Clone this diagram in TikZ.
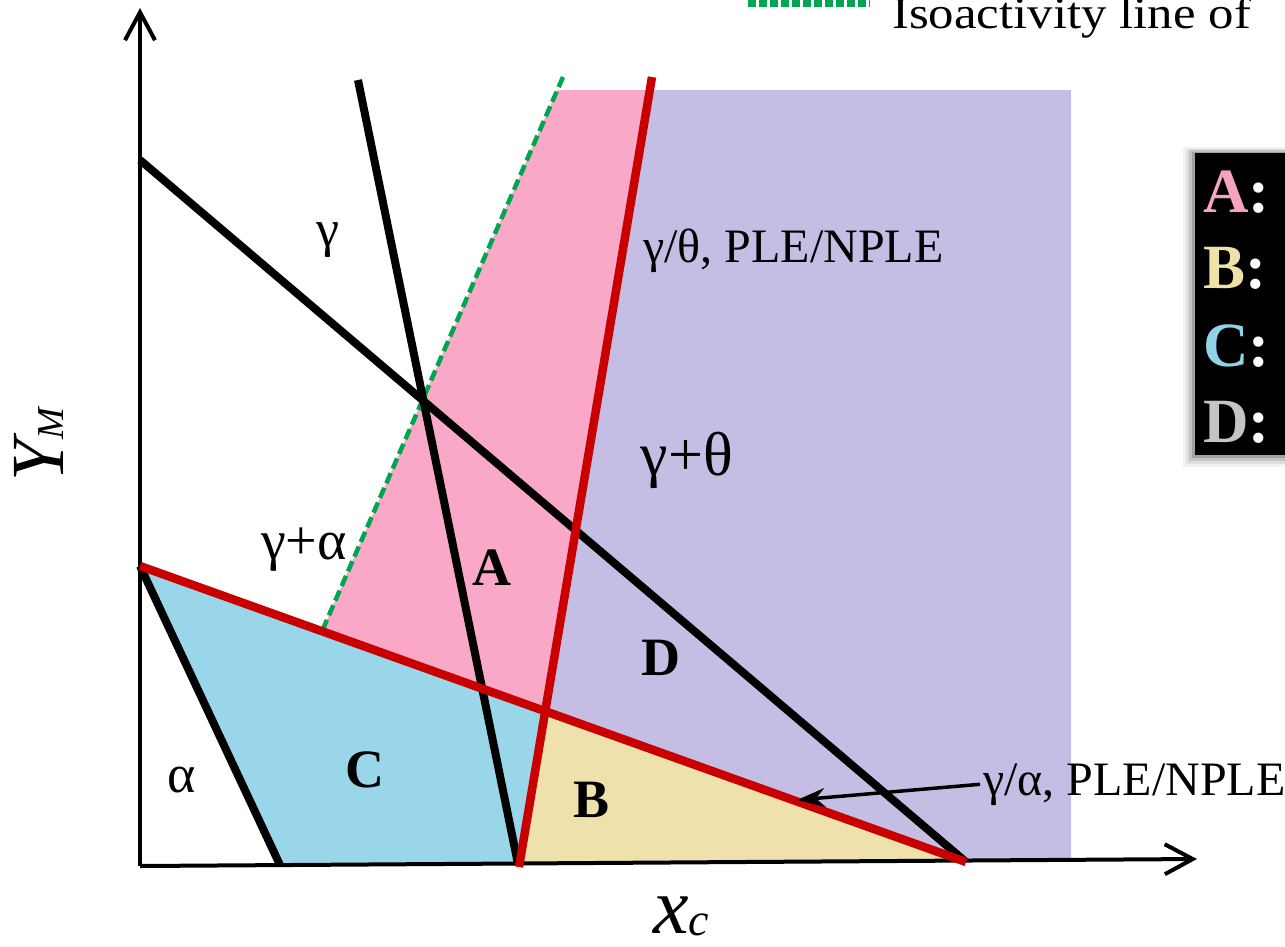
\documentclass[tikz,border=0pt]{standalone}
\usepackage{fontspec}
\usepackage{graphicx}
\setmainfont{Liberation Serif}
\usetikzlibrary{arrows.meta}
\definecolor{purp}{HTML}{C5BEE4}
\definecolor{pinkA}{HTML}{F9A8C7}
\definecolor{cyanC}{HTML}{99D6EA}
\definecolor{yelB}{HTML}{EFE1AB}
\definecolor{redL}{HTML}{C80000}
\definecolor{greenL}{HTML}{00A550}
\definecolor{legA}{HTML}{F5A3C3}
\definecolor{legB}{HTML}{EEE2A8}
\definecolor{legC}{HTML}{8FD4E8}
\definecolor{legD}{HTML}{C4C4C4}
\begin{document}
\begin{tikzpicture}[x=1pt,y=-1pt,
  blk/.style={line width=8pt, black},
  redline/.style={line width=8.5pt, redL},
  isoline/.style={line width=4.5pt, greenL, dash pattern=on 11pt off 5pt},
  axisline/.style={line width=4pt, black, -{Straight Barb[length=28pt,width=30pt,line width=4pt]}},
  lab/.style={font=\fontsize{48}{52}\selectfont, inner sep=0pt},
  blab/.style={font=\fontsize{54}{58}\selectfont\bfseries, inner sep=0pt},
  leg/.style={font=\fontsize{63}{66}\selectfont\bfseries, inner sep=0pt, anchor=base west}]
\useasboundingbox (0,0) rectangle (1285,946);
% key points
\coordinate (O) at (140,866);
\coordinate (Ytop) at (140,8);
\coordinate (Xtip) at (1197,859);
\coordinate (L1a) at (140,160);
\coordinate (E) at (966,862);
\coordinate (L2a) at (358,80);
\coordinate (L2b) at (518,864);
\coordinate (K) at (140,566);
\coordinate (L3b) at (280,865);
\coordinate (R2a) at (652,77);
\coordinate (R2b) at (519,867);
\coordinate (R2t) at (649.8,90);
\coordinate (Ga) at (563,77);
\coordinate (Gt) at (557.3,90);
\coordinate (Gb) at (322,631.2);
\coordinate (P) at (545.2,711.3);
\coordinate (PurTR) at (1071,90);
\coordinate (PurBR) at (1071,858);
\coordinate (R2x) at (519,865);
% regions
\fill[purp] (R2t) -- (PurTR) -- (PurBR) -- (E) -- (P) -- cycle;
\fill[pinkA] (Gt) -- (R2t) -- (P) -- (Gb) -- cycle;
\fill[cyanC] (K) -- (P) -- (R2x) -- (L3b) -- cycle;
\fill[yelB] (P) -- (E) -- (R2x) -- cycle;
% axes
\draw[axisline] (O) -- (Ytop);
\draw[axisline] (O) -- (Xtip);
% lines
\draw[isoline] (Ga) -- (Gb);
\draw[blk] (L1a) -- (E);
\draw[blk] (L2a) -- (L2b);
\draw[blk] (K) -- (L3b);
\draw[redline] (K) -- (E);
\draw[redline] (R2a) -- (R2b);
% labels
\node[lab, font=\fontsize{52}{56}\selectfont] (lg) at (328,240) {γ};
\node[lab, anchor=base west] (lgt) at (643,262) {γ/θ, PLE/NPLE};
\node[lab, font=\fontsize{62}{66}\selectfont] (lgpt) at (687,460) {γ+θ};
\node[lab, font=\fontsize{56}{60}\selectfont] (lgpa) at (304,550) {γ+α};
\node[blab] (lA) at (492,568) {A};
\node[blab] (lD) at (661,658) {D};
\node[blab] (lC) at (365,770) {C};
\node[blab] (lB) at (592,800) {B};
\node[lab, font=\fontsize{54}{58}\selectfont] (lal) at (182,780) {α};
\node[lab, anchor=base west] (lga) at (983,795) {γ/α, PLE/NPLE};
\coordinate (arrtip) at (797,800);
\draw[line width=3.5pt, -{Stealth[length=28pt,width=19pt]}] ([xshift=-3pt]lga.west) -- (arrtip);
% axis titles
\node[inner sep=0pt, rotate=90, anchor=base] (ylab) at (63,445) {\fontsize{75}{80}\selectfont\itshape Y\fontsize{38}{40}\selectfont M};
\node[inner sep=0pt, anchor=base] (xlab) at (681,933) {\fontsize{80}{84}\selectfont\itshape x\raisebox{-2pt}{\fontsize{46}{50}\selectfont c}};
% top legend
\coordinate (gl1) at (748,3);
\coordinate (gl2) at (870,3);
\draw[greenL, line width=8pt, dash pattern=on 8pt off 3pt] (gl1) -- (gl2);
\node[inner sep=0pt, anchor=base west] (iso) at (892,28) {\scalebox{1.13}[1]{\fontsize{45}{48}\selectfont Isoactivity line of}};
% legend box
\foreach \i/\o in {12/0.05,9/0.08,6/0.12,3/0.18}{
  \fill[black, opacity=\o] (1195-\i,153-\i*0.5) rectangle (1300,455+\i);
}
\fill[black] (1195,153) rectangle (1300,455);
\node[leg] (legA) at (1203,212) {\textcolor{legA}{A}\textcolor{white}{:}};
\node[leg] (legB) at (1203,288) {\textcolor{legB}{B}\textcolor{white}{:}};
\node[leg] (legC) at (1203,366) {\textcolor{legC}{C}\textcolor{white}{:}};
\node[leg] (legD) at (1203,442) {\textcolor{legD}{D}\textcolor{white}{:}};
\end{tikzpicture}
\end{document}
